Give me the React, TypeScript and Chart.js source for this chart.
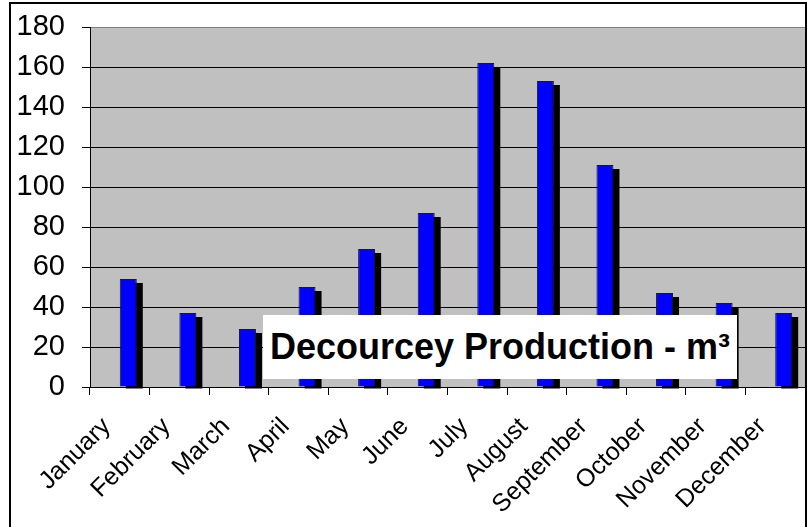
import React, { useEffect, useRef } from "react";
import { Chart, registerables } from "chart.js";

Chart.register(...registerables);

const months = [
  "January", "February", "March", "April", "May", "June",
  "July", "August", "September", "October", "November", "December",
];
const production = [54, 37, 29, 50, 69, 87, 162, 153, 111, 47, 42, 37];
const spacer = months.map(() => null);
const yMin = 0;
const yMax = 180;
const yStep = 20;
const titleText = "Decourcey Production - m³";

const FONT = '"Liberation Sans", Arial, sans-serif';

const plotBackground = {
  id: "plotBackground",
  beforeDraw(chart: any) {
    const { ctx, chartArea: a } = chart;
    ctx.save();
    ctx.fillStyle = "#C0C0C0";
    ctx.fillRect(a.left, a.top, a.right - a.left, a.bottom - a.top);
    ctx.restore();
  },
};

const barShadow = {
  id: "barShadow",
  beforeDatasetsDraw(chart: any) {
    const { ctx } = chart;
    const meta = chart.getDatasetMeta(1);
    ctx.save();
    ctx.fillStyle = "#000000";
    meta.data.forEach((el: any) => {
      const p = el.getProps(["x", "y", "base", "width"], true);
      if (p.y == null || isNaN(p.y)) return;
      const left = p.x - p.width / 2 + 6;
      const top = p.y + 4;
      const bottom = p.base + 2;
      ctx.fillRect(left, top, p.width, bottom - top);
    });
    ctx.restore();
  },
};

const clearPadding = (s: any) => {
  s.paddingTop = 0;
  s.paddingBottom = 0;
  s.paddingLeft = 0;
  s.paddingRight = 0;
};

export default function App() {
  const canvasRef = useRef<HTMLCanvasElement | null>(null);

  useEffect(() => {
    if (!canvasRef.current) return;
    const chart = new Chart(canvasRef.current, {
      type: "bar",
      data: {
        labels: months,
        datasets: [
          {
            label: "",
            data: spacer as any,
            backgroundColor: "rgba(0,0,0,0)",
          },
          {
            label: "Production",
            data: production,
            backgroundColor: "#0000FF",
            borderColor: "#1a1a1a",
            borderWidth: 1,
          },
        ],
      },
      options: {
        responsive: false,
        animation: false,
        devicePixelRatio: 1,
        datasets: {
          bar: { barPercentage: 1, categoryPercentage: 0.5706 },
        },
        layout: {
          autoPadding: false,
          padding: { left: 0, top: 27, right: 2, bottom: 0 },
        },
        plugins: {
          legend: { display: false },
          tooltip: { enabled: false },
          title: { display: false },
        },
        scales: {
          x: {
            type: "category",
            offset: true,
            grid: {
              display: true,
              drawOnChartArea: false,
              drawTicks: true,
              tickLength: 8,
              offset: true,
              color: "#000000",
              lineWidth: 1,
            },
            border: { display: true, color: "#000000", width: 1 },
            ticks: {
              autoSkip: false,
              minRotation: 45,
              maxRotation: 45,
              padding: 17,
              labelOffset: -13,
              color: "#000000",
              font: { family: FONT, size: 25 },
            },
            afterFit: (s: any) => {
              s.height = 140;
              clearPadding(s);
            },
          },
          y: {
            min: yMin,
            max: yMax,
            grid: {
              color: (c: any) =>
                c.tick && c.tick.value === yMax ? "#808080" : "#000000",
              tickColor: "#000000",
              tickLength: 8,
              drawTicks: true,
              lineWidth: 1,
            },
            border: { display: true, color: "#000000", width: 1 },
            ticks: {
              stepSize: yStep,
              padding: 17,
              color: "#000000",
              font: { family: FONT, size: 29 },
            },
            afterFit: (s: any) => {
              s.width = 90;
              clearPadding(s);
            },
          },
        },
      },
      plugins: [plotBackground, barShadow],
    });
    return () => chart.destroy();
  }, []);

  return (
    <div
      style={{
        position: "absolute",
        left: 0,
        top: 0,
        width: 807,
        height: 527,
        overflow: "hidden",
        background: "#ffffff",
      }}
    >
      <canvas
        ref={canvasRef}
        width={807}
        height={527}
        style={{ display: "block", width: 807, height: 527 }}
      />
      <div
        style={{
          position: "absolute",
          left: 9,
          top: 2,
          width: 798,
          height: 600,
          border: "2px solid #000000",
          boxSizing: "border-box",
          pointerEvents: "none",
        }}
      />
      <div
        style={{
          position: "absolute",
          left: 263,
          top: 315,
          width: 474,
          height: 64,
          background: "#ffffff",
          color: "#000000",
          font: `bold 36px ${FONT}`,
          lineHeight: "64px",
          paddingLeft: 7,
          boxSizing: "border-box",
          whiteSpace: "nowrap",
        }}
      >
        {titleText}
      </div>
    </div>
  );
}
